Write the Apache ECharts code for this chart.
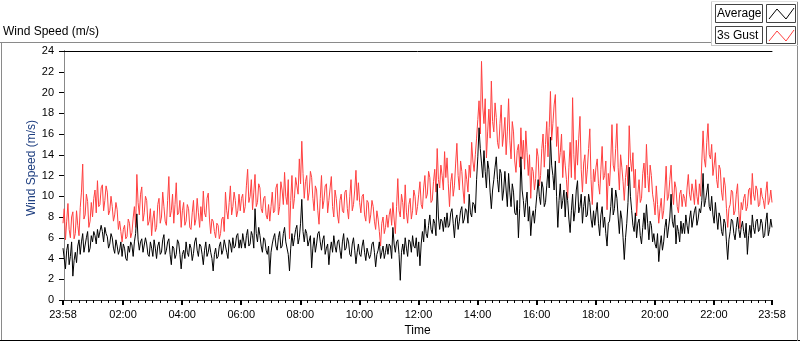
<!DOCTYPE html>
<html>
<head>
<meta charset="utf-8">
<script src="https://cdn.jsdelivr.net/npm/echarts@6/dist/echarts.min.js"></script>
<style>
html,body{margin:0;padding:0;background:#fff;}
#chart{width:800px;height:342px;}
</style>
</head>
<body>
<div id="chart"></div>
<script>
// Sample spacing (minutes) and start offset (23:58 = -2 minutes from midnight)
var startMinute = -2;
var stepMinutes = 5;

// 3s Gust (m/s), samples on the 5-minute grid from 23:58
var gust = [
  7.4, 5.8, 9.3, 6.0, 8.5, 6.4, 7.2, 8.9, 13.1, 8.2, 9.5, 7.6,
  8.0, 10.6, 11.5, 9.2, 11.1, 9.6, 10.4, 8.6, 9.0, 8.2, 8.7, 7.6,
  5.6, 7.2, 6.1, 7.4, 6.5, 9.0, 12.1, 8.2, 10.9, 8.4, 9.6, 7.6,
  6.2, 8.6, 7.0, 9.8, 8.0, 9.0, 7.2, 11.9, 8.6, 7.4, 11.3, 8.4,
  7.0, 9.4, 7.6, 8.8, 6.8, 9.6, 7.8, 8.4, 9.0, 10.5, 8.0, 10.3,
  6.4, 7.6, 6.0, 7.2, 6.4, 8.0, 10.4, 7.8, 11.0, 9.0, 9.6, 8.6,
  8.6, 10.2, 9.0, 12.6, 10.0, 8.7, 12.1, 9.4, 10.8, 8.4, 10.0, 7.8,
  7.6, 10.4, 8.6, 11.2, 9.0, 10.6, 12.3, 9.2, 5.9, 12.0, 9.8, 11.0,
  13.6, 15.3, 9.8, 12.0, 10.4, 11.8, 8.6, 10.6, 7.3, 12.0, 9.6, 11.2,
  9.6, 11.9, 8.0, 9.8, 7.4, 10.2, 8.4, 10.6, 7.8, 11.6, 9.2, 12.5,
  11.3, 8.4, 10.2, 7.6, 9.4, 8.2, 9.0, 6.8, 7.8, 5.2, 8.0, 7.0,
  7.0, 8.8, 9.4, 6.4, 11.7, 8.0, 9.4, 11.1, 7.4, 9.8, 8.6, 10.0,
  9.0, 11.4, 8.8, 12.0, 10.2, 11.8, 9.6, 12.6, 14.6, 10.8, 12.0, 14.3,
  13.7, 9.0, 12.2, 11.0, 15.1, 10.6, 12.4, 9.3, 11.6, 13.0, 15.2, 12.4,
  15.6, 19.2, 23.0, 17.0, 13.7, 18.4, 21.1, 16.2, 17.6, 14.6, 18.8, 16.0,
  14.0, 19.4, 13.6, 16.2, 12.3, 15.0, 16.6, 15.4, 16.3, 12.0, 9.8, 12.4,
  11.7, 13.8, 12.0, 16.0, 15.0, 13.8, 20.1, 17.0, 19.8, 16.7, 14.2, 11.8,
  13.0, 9.8, 15.2, 19.5, 11.6, 13.0, 17.7, 10.4, 14.0, 12.6, 16.5, 9.2,
  11.4, 13.6, 10.2, 14.8, 12.0, 8.7, 11.0, 16.9, 12.4, 17.0, 10.6, 12.8,
  9.6, 13.0, 16.8, 12.4, 10.8, 8.1, 11.6, 9.8, 13.2, 15.0, 10.4, 12.0,
  9.4, 11.0, 7.4, 9.8, 8.6, 12.9, 10.0, 13.0, 9.2, 10.8, 8.4, 10.6,
  10.2, 9.0, 12.1, 9.6, 10.4, 11.6, 9.2, 10.0, 16.3, 12.8, 17.0, 13.6,
  12.0, 14.2, 10.8, 12.6, 9.6, 11.0, 7.0, 9.2, 10.4, 8.6, 11.2, 6.9,
  8.7, 10.2, 9.0, 10.8, 12.2, 9.6, 10.6, 9.2, 10.0, 8.8, 11.4, 9.6,
  9.4
];
// 3s Gust (m/s), samples between the 5-minute grid points (2.5 minutes later)
var gustMid = [
  8.8, 7.6, 6.8, 8.0, 5.9, 8.6, 6.2, 10.4, 7.8, 10.2, 7.0, 9.4,
  9.8, 8.4, 9.0, 10.8, 8.6, 11.0, 8.2, 10.0, 7.6, 9.4, 6.8, 6.6,
  6.8, 5.9, 7.8, 6.0, 7.9, 7.0, 9.4, 10.2, 7.6, 10.0, 7.2, 8.8,
  7.8, 6.6, 9.2, 7.4, 10.4, 7.6, 9.6, 8.0, 10.2, 9.2, 8.2, 9.6,
  8.6, 7.2, 9.2, 7.0, 8.4, 7.2, 9.8, 7.0, 7.6, 8.4, 9.8, 7.8,
  7.8, 6.6, 7.4, 5.9, 7.8, 6.6, 8.6, 9.4, 8.2, 10.4, 8.0, 10.2,
  9.8, 8.4, 11.0, 9.4, 11.6, 10.4, 9.0, 11.2, 8.8, 9.8, 8.2, 9.2,
  9.0, 8.4, 10.8, 8.2, 11.4, 9.2, 10.0, 11.6, 9.6, 8.8, 11.8, 10.2,
  11.2, 12.2, 11.4, 9.6, 12.4, 9.8, 11.0, 8.6, 9.8, 8.8, 11.0, 8.4,
  10.8, 9.0, 10.6, 8.2, 9.6, 8.6, 10.4, 8.8, 10.0, 8.6, 10.6, 9.6,
  9.4, 10.0, 8.2, 9.6, 7.4, 9.6, 7.6, 8.6, 6.6, 7.4, 6.4, 8.2,
  8.2, 7.2, 7.8, 9.0, 8.6, 10.2, 7.8, 8.4, 9.2, 7.8, 10.6, 8.2,
  10.2, 9.2, 10.8, 9.8, 12.4, 9.4, 11.4, 10.4, 11.6, 13.0, 10.6, 11.8,
  11.2, 11.4, 10.0, 13.2, 12.0, 13.4, 10.6, 12.6, 10.4, 11.8, 13.4, 14.0,
  17.4, 16.0, 18.6, 19.4, 16.2, 15.6, 17.2, 19.0, 15.2, 17.0, 14.8, 17.6,
  16.2, 15.4, 17.2, 13.4, 14.4, 12.8, 13.6, 12.6, 14.2, 14.0, 12.8, 10.6,
  14.6, 11.0, 14.6, 12.8, 17.2, 16.6, 15.4, 18.8, 14.8, 13.2, 16.0, 14.4,
  11.6, 12.8, 11.8, 14.0, 15.4, 15.6, 12.6, 13.2, 11.2, 14.6, 11.6, 12.6,
  12.8, 11.2, 12.6, 11.6, 13.4, 12.2, 13.4, 13.0, 14.6, 12.8, 14.0, 11.4,
  11.8, 11.0, 13.6, 14.2, 12.6, 10.2, 9.4, 12.2, 10.8, 12.0, 13.0, 10.2,
  8.2, 9.2, 8.8, 7.8, 10.6, 9.6, 11.6, 10.4, 11.4, 9.0, 10.2, 9.0,
  9.8, 10.8, 10.2, 11.2, 9.2, 10.0, 11.2, 13.4, 13.6, 15.2, 14.0, 15.0,
  13.0, 11.6, 13.0, 10.4, 11.8, 8.8, 8.8, 10.6, 8.2, 10.2, 8.6, 9.4,
  9.8, 8.6, 10.6, 9.2, 10.2, 11.0, 9.0, 10.8, 9.6, 10.4, 9.2, 10.6
];

// Average (m/s), samples on the 5-minute grid from 23:58
var average = [
  5.0, 3.0, 5.4, 4.2, 2.3, 4.6, 5.2, 4.4, 6.4, 5.3, 6.6, 5.0,
  5.6, 6.2, 6.8, 5.9, 6.6, 7.0, 6.1, 5.4, 6.0, 4.5, 5.2, 4.8,
  4.2, 5.0, 3.8, 4.6, 5.3, 5.6, 8.3, 4.8, 5.9, 4.5, 5.4, 4.2,
  5.0, 5.8, 4.0, 5.6, 4.6, 6.3, 4.8, 5.9, 3.4, 5.0, 4.4, 5.5,
  3.0, 4.8, 5.6, 4.2, 5.0, 4.5, 6.0, 4.2, 5.2, 3.4, 5.6, 4.6,
  4.6, 2.8, 5.0, 4.2, 5.6, 4.8, 5.2, 4.0, 5.4, 6.0, 5.2, 6.4,
  5.8, 6.4, 5.0, 6.8, 5.4, 6.2, 8.8, 5.6, 6.2, 4.6, 5.8, 4.4,
  2.5, 5.4, 6.4, 4.8, 6.6, 5.2, 7.0, 5.6, 2.8, 6.4, 6.0, 7.2,
  6.0, 9.7, 5.6, 6.4, 5.2, 3.1, 6.0, 5.4, 6.6, 4.8, 6.2, 5.0,
  3.4, 5.6, 6.2, 4.6, 5.8, 4.0, 6.4, 5.0, 5.6, 4.2, 6.0, 3.5,
  5.4, 4.2, 5.8, 3.8, 5.0, 4.4, 5.6, 3.2, 4.8, 4.0, 5.2, 4.6,
  4.4, 5.2, 7.0, 4.6, 5.8, 1.9, 5.4, 6.0, 4.2, 5.6, 6.2, 5.0,
  4.2, 3.3, 6.6, 7.8, 6.0, 8.2, 6.4, 7.4, 11.2, 6.8, 7.6, 8.0,
  8.4, 7.2, 8.8, 6.0, 8.2, 7.6, 9.0, 7.8, 8.6, 10.2, 8.0, 9.2,
  11.6, 16.6, 13.2, 14.4, 10.8, 12.6, 8.8, 11.6, 13.8, 10.4, 12.2, 10.6,
  10.6, 12.2, 9.0, 10.4, 8.2, 6.0, 13.8, 9.6, 9.4, 7.6, 6.2, 8.6,
  8.8, 11.6, 9.2, 10.8, 9.4, 12.6, 15.7, 12.0, 13.4, 7.0, 11.2, 9.6,
  8.0, 9.6, 6.5, 10.2, 8.6, 11.5, 9.0, 7.4, 10.0, 8.2, 9.4, 7.0,
  7.2, 9.4, 6.2, 9.0, 8.0, 5.2, 7.6, 10.8, 8.8, 9.8, 6.4, 7.8,
  3.9, 7.4, 12.8, 8.6, 6.6, 6.0, 7.8, 5.4, 8.4, 9.2, 5.8, 7.2,
  6.4, 5.0, 3.7, 6.2, 5.6, 7.8, 6.0, 10.2, 7.0, 5.4, 6.6, 7.6,
  7.4, 8.2, 6.4, 8.6, 7.0, 9.0, 7.8, 8.4, 12.2, 9.6, 11.2, 8.6,
  8.2, 9.4, 6.8, 8.0, 6.2, 7.4, 3.9, 6.6, 7.6, 5.8, 8.0, 6.0,
  7.6, 6.0, 4.4, 7.2, 8.2, 6.4, 7.8, 6.8, 7.4, 6.2, 8.4, 6.8,
  7.0
];
// Average (m/s), samples between the 5-minute grid points
var averageMid = [
  4.0, 4.8, 3.4, 5.6, 3.8, 3.6, 5.8, 5.6, 4.6, 6.0, 4.6, 6.2,
  6.6, 5.4, 6.0, 7.2, 5.6, 6.4, 5.0, 6.4, 5.0, 5.8, 4.4, 5.6,
  5.4, 4.0, 5.2, 5.6, 4.2, 6.4, 5.8, 5.6, 4.6, 6.0, 4.4, 5.6,
  4.2, 5.0, 5.2, 4.4, 5.8, 4.4, 5.6, 4.4, 5.2, 4.0, 5.8, 4.4,
  4.4, 4.0, 4.6, 5.4, 3.8, 5.6, 4.8, 5.4, 4.4, 4.8, 4.2, 5.4,
  4.0, 4.4, 4.0, 5.2, 4.4, 5.8, 4.6, 5.8, 4.6, 5.0, 6.2, 5.0,
  5.0, 5.6, 6.2, 5.2, 6.6, 5.0, 6.4, 7.0, 5.2, 6.0, 4.8, 5.2,
  4.6, 6.0, 5.2, 6.0, 5.0, 6.4, 5.6, 4.4, 5.0, 5.2, 6.8, 5.4,
  7.4, 6.6, 6.8, 5.2, 6.2, 5.0, 4.6, 6.4, 5.6, 5.8, 4.4, 5.4,
  4.8, 4.6, 5.2, 5.6, 4.8, 5.6, 4.8, 6.0, 4.4, 5.4, 4.8, 4.6,
  4.4, 5.2, 4.6, 5.0, 4.0, 5.4, 4.6, 4.4, 5.6, 4.6, 4.0, 5.4,
  5.4, 4.0, 5.4, 5.6, 4.4, 4.6, 4.4, 5.0, 5.8, 4.6, 5.2, 6.0,
  5.6, 5.4, 5.6, 6.4, 7.2, 6.8, 7.8, 6.2, 8.0, 7.8, 6.6, 7.0,
  7.0, 8.4, 7.4, 7.8, 6.8, 8.6, 7.4, 8.8, 7.4, 8.4, 9.4, 8.4,
  13.8, 14.6, 11.8, 12.4, 13.4, 10.4, 10.6, 12.8, 11.6, 12.6, 9.6, 12.4,
  9.0, 10.4, 11.2, 8.4, 9.6, 8.8, 10.6, 8.0, 10.4, 9.0, 8.0, 7.4,
  10.2, 10.0, 11.4, 9.0, 11.0, 10.8, 13.0, 10.6, 10.0, 9.6, 8.8, 10.6,
  10.4, 7.8, 8.6, 7.6, 10.6, 8.4, 10.2, 9.0, 8.0, 10.2, 7.8, 8.6,
  8.4, 7.4, 8.2, 7.0, 6.4, 7.4, 9.0, 8.2, 10.6, 8.0, 8.6, 6.0,
  6.0, 9.4, 10.0, 7.2, 8.4, 7.4, 6.2, 7.0, 6.8, 7.4, 7.6, 5.6,
  5.4, 6.4, 5.2, 4.8, 7.0, 6.0, 8.0, 7.6, 8.2, 7.2, 5.6, 6.4,
  6.4, 7.2, 7.8, 7.0, 8.6, 7.2, 8.8, 9.6, 9.0, 10.4, 9.0, 10.0,
  7.4, 8.0, 8.4, 6.6, 7.8, 5.6, 5.8, 7.8, 6.4, 7.0, 6.8, 7.0,
  6.6, 7.4, 6.2, 6.0, 7.0, 7.6, 6.6, 7.8, 6.0, 7.6, 6.2, 7.8
];

// X tick positions (minutes from midnight) and labels
var majorTickValues = [-2, 120, 240, 360, 480, 600, 720, 840, 960, 1080, 1200, 1320, 1438];
var majorTickLabels = ['23:58', '02:00', '04:00', '06:00', '08:00', '10:00', '12:00', '14:00', '16:00', '18:00', '20:00', '22:00', '23:58'];
var minorTickValues = [];
for (var m = 15; m < 1438; m += 15) { if (m % 120 !== 0) minorTickValues.push(m); }

var yTickValues = [0, 2, 4, 6, 8, 10, 12, 14, 16, 18, 20, 22, 24];

// Build [time, value] pairs, interleaving grid samples with mid samples
function pairs(onGrid, between) {
  var out = [];
  for (var i = 0; i < onGrid.length; i++) {
    out.push([startMinute + i * stepMinutes, onGrid[i]]);
    if (i < between.length) out.push([startMinute + i * stepMinutes + stepMinutes / 2, between[i]]);
  }
  return out;
}

var FONT = '"Liberation Sans", Arial, sans-serif';
var chart = echarts.init(document.getElementById('chart'), null, {renderer: 'canvas'});

var option = {
  animation: false,
  backgroundColor: '#ffffff',
  grid: {left: 63, right: 28, top: 51, bottom: 39, show: false},
  xAxis: [
    {
      type: 'value', min: -2, max: 1438, position: 'bottom',
      axisLine: {show: true, lineStyle: {color: '#333', width: 1}},
      axisTick: {show: true, customValues: majorTickValues, length: 5, lineStyle: {color: '#000', width: 2}},
      axisLabel: {
        show: true, customValues: majorTickValues, margin: 9, fontSize: 11, color: '#000', fontFamily: FONT,
        formatter: function (v) { var k = majorTickValues.indexOf(v); return k >= 0 ? majorTickLabels[k] : ''; }
      },
      splitLine: {show: false},
      name: 'Time', nameLocation: 'middle', nameGap: 25,
      nameTextStyle: {fontSize: 12, color: '#000', fontFamily: FONT}
    },
    {
      type: 'value', min: -2, max: 1438, position: 'bottom',
      axisLine: {show: false},
      axisTick: {show: true, customValues: minorTickValues, length: 3, lineStyle: {color: '#000', width: 1}},
      axisLabel: {show: false},
      splitLine: {show: false}
    },
    {
      type: 'value', min: -2, max: 1438, position: 'top',
      axisLine: {show: true, lineStyle: {color: '#000', width: 1}},
      axisTick: {show: false}, axisLabel: {show: false}, splitLine: {show: false}
    }
  ],
  yAxis: [
    {
      type: 'value', min: 0, max: 24, interval: 2, position: 'left',
      axisLine: {show: true, lineStyle: {color: '#000', width: 1}},
      axisTick: {show: true, length: 5, lineStyle: {color: '#000'}},
      axisLabel: {margin: 9, fontSize: 11, color: '#000', fontFamily: FONT,
        formatter: function (v) { return yTickValues.indexOf(v) >= 0 ? String(v) : ''; }},
      splitLine: {show: false}
    },
    {
      type: 'value', min: 0, max: 24, position: 'right',
      axisLine: {show: true, lineStyle: {color: '#888', width: 1}},
      axisTick: {show: false}, axisLabel: {show: false}, splitLine: {show: false}
    }
  ],
  series: [
    {
      name: '3s Gust', type: 'line', xAxisIndex: 0, yAxisIndex: 0,
      data: pairs(gust, gustMid), showSymbol: false, symbol: 'none',
      lineStyle: {color: '#ff4040', width: 1}, silent: true
    },
    {
      name: 'Average', type: 'line', xAxisIndex: 0, yAxisIndex: 0,
      data: pairs(average, averageMid), showSymbol: false, symbol: 'none',
      lineStyle: {color: '#000000', width: 1}, silent: true
    }
  ],
  graphic: [
    // outer frame
    {type: 'line', silent: true, shape: {x1: 0, y1: 42.5, x2: 712, y2: 42.5}, style: {stroke: '#8a8a8a', lineWidth: 1}},
    {type: 'line', silent: true, shape: {x1: 1.5, y1: 42, x2: 1.5, y2: 341}, style: {stroke: '#8a8a8a', lineWidth: 1}},
    {type: 'line', silent: true, shape: {x1: 0, y1: 340.5, x2: 800, y2: 340.5}, style: {stroke: '#000', lineWidth: 1}},
    {type: 'line', silent: true, shape: {x1: 797.5, y1: 2, x2: 797.5, y2: 341}, style: {stroke: '#8a8a8a', lineWidth: 1}},
    // legend frame
    {type: 'line', silent: true, shape: {x1: 711.5, y1: 2, x2: 711.5, y2: 46}, style: {stroke: '#c8c8c8', lineWidth: 1}},
    {type: 'line', silent: true, shape: {x1: 711, y1: 45.5, x2: 798, y2: 45.5}, style: {stroke: '#c8c8c8', lineWidth: 1}},
    {type: 'line', silent: true, shape: {x1: 711, y1: 1.5, x2: 798, y2: 1.5}, style: {stroke: '#e0e0e0', lineWidth: 1}},
    // legend boxes
    {type: 'rect', silent: true, shape: {x: 715.5, y: 4.5, width: 47, height: 18}, style: {fill: '#fff', stroke: '#444', lineWidth: 1}},
    {type: 'rect', silent: true, shape: {x: 766.5, y: 4.5, width: 29, height: 18}, style: {fill: '#fff', stroke: '#444', lineWidth: 1}},
    {type: 'rect', silent: true, shape: {x: 715.5, y: 26.5, width: 47, height: 17}, style: {fill: '#fff', stroke: '#444', lineWidth: 1}},
    {type: 'rect', silent: true, shape: {x: 766.5, y: 26.5, width: 29, height: 17}, style: {fill: '#fff', stroke: '#444', lineWidth: 1}},
    {type: 'polyline', silent: true, shape: {points: [[769, 19], [777, 9], [786, 19], [794, 8]]}, style: {stroke: '#000', fill: null, lineWidth: 1}},
    {type: 'polyline', silent: true, shape: {points: [[769, 41], [777, 31], [786, 41], [794, 30]]}, style: {stroke: '#ff4040', fill: null, lineWidth: 1}},
    {type: 'text', silent: true, x: 717, y: 14, style: {text: 'Average', font: '12px ' + FONT, fill: '#000', align: 'left', verticalAlign: 'middle'}},
    {type: 'text', silent: true, x: 717, y: 35.5, style: {text: '3s Gust', font: '12px ' + FONT, fill: '#000', align: 'left', verticalAlign: 'middle'}},
    // chart caption
    {type: 'text', silent: true, x: 3, y: 32, style: {text: 'Wind Speed (m/s)', font: '12px ' + FONT, fill: '#000', align: 'left', verticalAlign: 'middle'}},
    // y axis name
    {type: 'text', silent: true, x: 32, y: 168, rotation: Math.PI / 2, style: {text: 'Wind Speed (m/s)', font: '12px ' + FONT, fill: '#1f3f80', align: 'center', verticalAlign: 'middle'}}
  ]
};
chart.setOption(option);
</script>
</body>
</html>
